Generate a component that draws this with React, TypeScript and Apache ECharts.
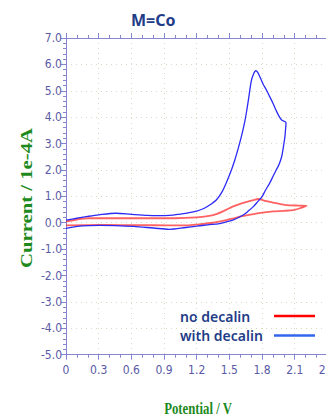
import React, { useEffect, useRef } from "react";
import * as echarts from "echarts";

// Cyclic voltammograms: potential (V) and current (1e-4 A)
const blueV = [0.0, 0.1, 0.2, 0.3, 0.46, 0.6, 0.75, 0.83, 0.95, 1.05, 1.12, 1.2, 1.27, 1.33, 1.38, 1.43, 1.47, 1.51, 1.55, 1.58, 1.61, 1.64, 1.66, 1.68, 1.7, 1.72, 1.743, 1.76, 1.78, 1.81, 1.84, 1.87, 1.9, 1.93, 1.95, 1.98, 2.02,
  2.015, 2.01, 1.995, 1.98, 1.955, 1.93, 1.9, 1.87, 1.83, 1.8, 1.76, 1.72, 1.67, 1.63, 1.58, 1.53, 1.47, 1.41, 1.3, 1.2, 1.1, 0.95, 0.8, 0.62, 0.45, 0.31, 0.15, 0.0];
const blueI = [0.1, 0.17, 0.24, 0.3, 0.36, 0.32, 0.28, 0.27, 0.28, 0.33, 0.37, 0.44, 0.55, 0.7, 0.86, 1.15, 1.5, 1.9, 2.38, 2.8, 3.26, 3.8, 4.27, 4.8, 5.35, 5.62, 5.76, 5.7, 5.53, 5.25, 5.03, 4.78, 4.53, 4.25, 4.08, 3.89, 3.79,
  3.5, 3.26, 2.85, 2.5, 2.2, 2.0, 1.75, 1.5, 1.22, 0.99, 0.8, 0.61, 0.43, 0.3, 0.19, 0.1, 0.03, -0.03, -0.08, -0.13, -0.18, -0.25, -0.2, -0.14, -0.11, -0.1, -0.12, -0.21];

const redV = [0.0, 0.2, 0.5, 0.8, 1.0, 1.2, 1.3, 1.38, 1.45, 1.53, 1.62, 1.72, 1.765, 1.82, 1.9, 1.98, 2.06, 2.14, 2.21,
  2.15, 2.09, 2.0, 1.9, 1.8, 1.72, 1.62, 1.53, 1.45, 1.35, 1.22, 1.11, 0.92, 0.7, 0.5, 0.3, 0.0];
const redI = [0.04, 0.17, 0.17, 0.17, 0.17, 0.2, 0.25, 0.33, 0.45, 0.61, 0.74, 0.86, 0.9, 0.84, 0.76, 0.7, 0.66, 0.65, 0.64,
  0.55, 0.48, 0.45, 0.43, 0.38, 0.33, 0.25, 0.16, 0.08, 0.0, -0.06, -0.1, -0.1, -0.09, -0.09, -0.08, -0.1];

const seriesNames = ["no decalin", "with decalin"];
const xTicks = { min: 0, max: 2.4, interval: 0.3 };
const yTicks = { min: -5, max: 7, interval: 1 };

const axisColor = "#8585d2";
const labelColor = "#5a5aa6";
const navy = "#1f3c88";
const green = "#1e8a1e";

export default function App() {
  const ref = useRef<HTMLDivElement>(null);
  useEffect(() => {
    document.body.style.margin = "0";
    const chart = echarts.init(ref.current!, undefined, { renderer: "svg" });
    const pair = (xs: number[], ys: number[]) => xs.map((x, i) => [x, ys[i]]);
    const labelFont = "'Liberation Sans Narrow', 'DejaVu Sans Condensed', sans-serif";
    const baseX = {
      type: "value",
      min: xTicks.min,
      max: xTicks.max,
      interval: xTicks.interval,
      axisLine: { show: true, onZero: false, lineStyle: { color: axisColor, width: 1 } },
      axisTick: { show: true, inside: false, length: 5, lineStyle: { color: axisColor } },
      minorTick: { show: true, splitNumber: 3, length: 3, lineStyle: { color: axisColor } },
    };
    chart.setOption({
      animation: false,
      title: {
        text: "M=Co",
        left: 126,
        top: 7,
        textStyle: { fontSize: 16, fontWeight: "bold", color: navy, fontFamily: "'Noto Sans', sans-serif" },
      },
      grid: { left: 66, top: 38, width: 261.4, bottom: 62.3, containLabel: false, outerBoundsMode: "none" },
      xAxis: [
        {
          ...baseX,
          position: "bottom",
          axisLabel: {
            color: labelColor,
            fontFamily: labelFont,
            fontSize: 12,
            margin: 9,
            formatter: (v: number) => (v === 0 ? "0" : v.toFixed(1)),
          },
          splitLine: { show: true, lineStyle: { color: "#d9d9c4", type: [1, 4], width: 1 } },
        },
        {
          ...baseX,
          position: "top",
          axisLabel: { show: false },
          splitLine: { show: false },
        },
      ],
      yAxis: {
        type: "value",
        min: yTicks.min,
        max: yTicks.max,
        interval: yTicks.interval,
        axisLine: { show: true, onZero: false, lineStyle: { color: axisColor, width: 1 } },
        axisTick: { show: true, length: 5, lineStyle: { color: axisColor } },
        minorTick: { show: true, splitNumber: 5, length: 3, lineStyle: { color: axisColor } },
        axisLabel: {
          color: labelColor,
          fontFamily: labelFont,
          fontSize: 12,
          margin: 4,
          formatter: (v: number) => v.toFixed(1),
        },
        splitLine: { show: true, lineStyle: { color: "#d9d9c4", type: [1, 4], width: 1 } },
      },
      legend: { show: false, data: seriesNames },
      series: [
        {
          name: seriesNames[0],
          type: "line",
          data: pair(redV, redI),
          showSymbol: false,
          smooth: 0.3,
          lineStyle: { color: "#ff2020", width: 1.8, opacity: 0.7 },
          itemStyle: { color: "#ff2020" },
          z: 2,
        },
        {
          name: seriesNames[1],
          type: "line",
          data: pair(blueV, blueI),
          showSymbol: false,
          smooth: 0.3,
          lineStyle: { color: "#2b2bf5", width: 1.3 },
          itemStyle: { color: "#2b2bf5" },
          z: 3,
        },
      ],
      graphic: [
        {
          type: "text",
          x: 26,
          y: 198,
          rotation: Math.PI / 2,
          scaleX: 1.22,
          style: {
            text: "Current / 1e-4A",
            fill: green,
            font: "bold 17px 'Liberation Serif', serif",
            textAlign: "center",
            textVerticalAlign: "middle",
          },
        },
        {
          type: "text",
          x: 198,
          y: 408,
          scaleX: 0.75,
          style: {
            text: "Potential / V",
            fill: green,
            font: "bold 17px 'Liberation Serif', serif",
            textAlign: "center",
            textVerticalAlign: "middle",
          },
        },
        {
          type: "text",
          x: 180,
          y: 316,
          style: {
            text: seriesNames[0],
            fill: navy,
            font: "600 14px 'Noto Sans', sans-serif",
            textVerticalAlign: "middle",
          },
        },
        {
          type: "text",
          x: 180,
          y: 335,
          style: {
            text: seriesNames[1],
            fill: navy,
            font: "600 14px 'Noto Sans', sans-serif",
            textVerticalAlign: "middle",
          },
        },
        {
          type: "line",
          shape: { x1: 274, y1: 316, x2: 315, y2: 316 },
          style: { stroke: "#ff0000", lineWidth: 2.5 },
        },
        {
          type: "line",
          shape: { x1: 274, y1: 335.5, x2: 315, y2: 335.5 },
          style: { stroke: "#3366ee", lineWidth: 2.5 },
        },
      ],
    });
    return () => chart.dispose();
  }, []);
  return <div ref={ref} style={{ width: 326, height: 417 }} />;
}
